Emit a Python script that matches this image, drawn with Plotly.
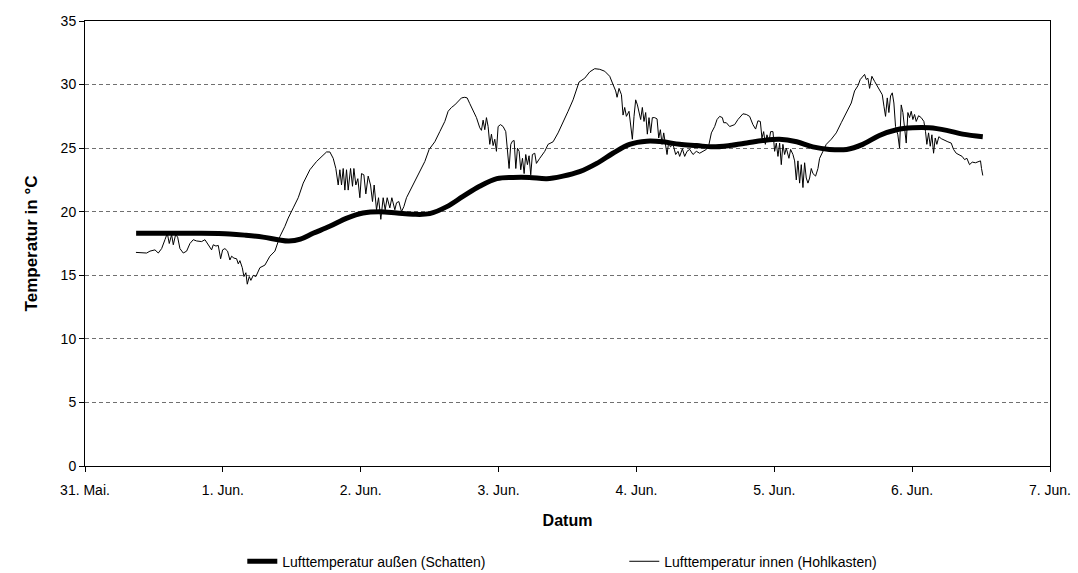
import plotly.graph_objects as go

# ---- data (hours since 31 May 00:00) ----
out_hours = [8.9, 12, 16, 20, 25.2, 28, 31, 33.6, 35.5, 37.5, 39.7, 42.6, 45.6, 48.4, 51.3, 54.3,
             57.1, 60, 63, 65.8, 68.7, 71.7, 74.5, 77.4, 80.4, 83.2, 86.1, 89.1, 91.9, 94.8, 97.8,
             100.6, 103.5, 106.5, 109.3, 112.2, 115.2, 118, 120.9, 123.9, 126.7, 129.6, 132.6,
             135.4, 138.3, 141.3, 144.1, 147, 150, 152.8, 156.3]
out_temp = [18.3, 18.3, 18.3, 18.3, 18.25, 18.15, 18.0, 17.8, 17.7, 17.85, 18.3, 18.85, 19.5, 19.9,
            20.0, 19.9, 19.8, 19.85, 20.4, 21.2, 22.0, 22.6, 22.7, 22.7, 22.6, 22.8, 23.15, 23.8,
            24.6, 25.3, 25.55, 25.5, 25.3, 25.2, 25.1, 25.2, 25.4, 25.6, 25.7, 25.5, 25.1, 24.9,
            24.9, 25.3, 26.0, 26.45, 26.6, 26.6, 26.4, 26.1, 25.9]

in_hours = [8.87, 10.73, 11.31, 12.18, 12.76, 13.34, 13.92, 14.33, 14.67, 15.08, 15.37, 15.78, 16.13,
            16.53, 17.11, 17.69, 18.27, 18.85, 19.43, 20.3, 20.88, 21.46, 22.04, 22.33, 22.79, 23.2,
            23.61, 23.96, 24.36, 24.82, 25.23, 25.52, 25.93, 26.39, 26.68, 26.97, 27.38, 27.67, 28.01,
            28.25, 28.6, 28.88, 29.29, 29.75, 30.45, 31.32, 32.19, 33.06, 33.93, 34.8, 35.38, 36.25,
            37.12, 37.99, 39.15, 40.31, 41.18, 42.05, 42.63, 43.21, 43.67, 44.08, 44.37, 44.66, 44.95,
            45.24, 45.53, 45.82, 46.23, 46.57, 46.81, 47.15, 47.5, 47.85, 48.14, 48.55, 48.89, 49.3,
            49.71, 50.05, 50.34, 50.75, 51.1, 51.5, 51.91, 52.26, 52.61, 53.07, 53.42, 53.94, 54.23,
            54.64, 55.1, 55.51, 55.97, 56.55, 57.42, 58.29, 59.16, 59.91, 60.9, 61.77, 62.64, 63.22,
            63.8, 64.38, 64.96, 65.54, 66.12, 66.53, 66.99, 67.57, 68.15, 68.73, 69.02, 69.31, 69.6,
            69.89, 70.18, 70.47, 70.76, 71.05, 71.34, 71.63, 71.92, 72.33, 72.79, 73.25, 73.54, 73.83,
            74.12, 74.42, 74.71, 75.0, 75.29, 75.58, 75.86, 76.16, 76.45, 76.73, 77.02, 77.31, 77.6,
            77.89, 78.3, 78.59, 79.17, 80.04, 80.62, 81.49, 82.36, 83.23, 84.1, 84.97, 85.55, 86.01,
            87.0, 87.87, 88.74, 89.61, 90.48, 91.35, 91.93, 92.39, 92.63, 92.97, 93.39, 93.67, 93.96,
            94.25, 94.71, 95.0, 95.29, 95.58, 95.87, 96.17, 96.45, 96.74, 97.03, 97.32, 97.61, 97.9,
            98.19, 98.48, 98.77, 99.18, 99.59, 99.88, 100.17, 100.46, 100.75, 101.04, 101.33, 101.62,
            101.91, 102.37, 102.83, 103.24, 103.53, 104.0, 104.4, 104.81, 105.27, 105.85, 106.43,
            107.01, 107.59, 108.17, 108.63, 109.05, 109.62, 110.03, 110.49, 110.96, 111.19, 111.65,
            112.23, 113.1, 113.67, 114.54, 115.13, 115.71, 116.28, 116.75, 117.15, 117.57, 117.85,
            118.15, 118.44, 118.72, 119.07, 119.36, 119.77, 120.06, 120.35, 120.64, 120.93, 121.22,
            121.5, 121.8, 122.09, 122.55, 122.84, 123.25, 123.54, 123.83, 124.12, 124.41, 124.7,
            124.99, 125.28, 125.57, 125.86, 126.15, 126.44, 126.73, 127.19, 127.6, 127.89, 128.35,
            129.05, 129.92, 130.79, 131.66, 132.53, 133.4, 133.98, 134.55, 134.97, 135.42, 135.72,
            136.01, 136.3, 136.59, 136.99, 137.46, 137.87, 138.33, 138.8, 139.09, 139.37, 139.67,
            139.95, 140.24, 140.54, 140.82, 141.11, 141.51, 141.81, 142.1, 142.39, 142.68, 142.97,
            143.26, 143.55, 143.84, 144.13, 144.42, 144.71, 145.12, 145.58, 146.04, 146.33, 146.56,
            146.86, 147.15, 147.44, 147.73, 148.02, 148.3, 148.65, 149.06, 149.64, 150.22, 150.8,
            151.21, 151.67, 152.13, 152.71, 153.12, 153.53, 153.99, 154.46, 155.03, 155.56, 155.9,
            156.08, 156.3]
in_temp = [16.8, 16.75, 16.9, 17.0, 16.75, 17.1, 17.8, 18.3, 17.5, 18.2, 17.4, 18.2, 18.0,
           17.1, 16.75, 16.9, 17.5, 17.8, 17.7, 17.65, 17.8, 17.4, 17.0, 17.4, 17.3, 17.35,
           16.3, 17.0, 17.1, 16.9, 16.2, 16.5, 16.35, 16.3, 15.9, 16.15, 15.6, 14.9, 15.2,
           14.3, 14.9, 14.6, 15.0, 14.9, 15.6, 15.8, 16.5, 16.9, 18.05, 18.85, 19.5, 20.3,
           21.1, 22.25, 23.3, 23.95, 24.3, 24.7, 24.7, 24.2, 23.4, 22.1, 23.3, 22.1, 23.4,
           21.7, 23.3, 21.7, 23.4, 22.0, 23.4, 22.1, 22.6, 21.1, 23.0, 22.9, 21.4, 22.8,
           22.1, 20.8, 22.1, 20.15, 21.1, 19.4, 21.1, 20.15, 21.1, 20.3, 21.1, 20.15, 20.7,
           20.8, 20.0, 20.4, 21.1, 21.6, 22.4, 23.2, 23.95, 24.9, 25.5, 26.3, 27.1, 27.9,
           28.2, 28.4, 28.7, 28.95, 29.0, 28.95, 28.5, 28.0, 27.4, 26.6, 26.4, 27.2, 26.45,
           27.4, 26.7, 25.3, 26.1, 25.2, 25.7, 24.75, 26.7, 26.85, 26.7, 26.3, 24.6, 23.4,
           25.3, 25.55, 25.6, 23.4, 25.0, 24.75, 23.3, 24.2, 23.0, 24.5, 23.7, 24.4, 22.9,
           24.5, 24.6, 23.8, 24.2, 24.75, 25.3, 25.5, 26.2, 27.0, 27.9, 28.8, 29.5, 30.2,
           30.5, 31.0, 31.25, 31.2, 31.05, 30.65, 30.0, 29.5, 29.0, 29.7, 29.2, 27.6, 28.2,
           27.5, 27.9, 26.7, 25.7, 27.5, 28.8, 28.4, 27.9, 27.25, 28.2, 27.1, 27.8, 26.1,
           27.4, 26.2, 27.4, 27.4, 27.3, 25.8, 26.45, 25.3, 26.2, 25.5, 24.5, 25.5,
           25.1, 25.3, 24.5, 24.75, 24.35, 24.95, 24.35, 24.75, 24.9, 24.5, 24.75,
           24.6, 24.75, 24.9, 25.3, 26.2, 26.7, 27.25, 27.5, 27.4, 27.0, 27.0,
           26.7, 26.85, 27.25, 27.7, 27.65, 27.5, 26.85, 26.5, 27.15, 27.1, 25.8,
           26.3, 25.3, 26.05, 25.5, 26.3, 26.3, 24.75, 25.4, 24.35, 25.4, 23.7,
           25.3, 24.5, 25.0, 24.2, 24.9, 24.5, 24.0, 22.5, 24.0, 22.25, 23.7,
           21.9, 23.85, 22.65, 22.25, 22.65, 23.4, 23.0, 22.8, 23.4, 24.2, 24.6,
           25.3, 25.7, 26.2, 27.0, 27.8, 28.55, 29.5, 29.9, 30.4, 30.65, 30.8,
           30.4, 30.5, 29.7, 30.65, 30.25, 29.9, 29.5, 29.2, 28.3, 27.5, 28.95,
           27.8, 29.1, 29.35, 28.55, 26.7, 26.05, 25.0, 28.4, 27.8, 26.6, 25.4,
           27.8, 27.4, 27.9, 27.25, 27.65, 27.1, 27.55, 27.4, 27.1, 26.3, 25.3,
           26.2, 25.15, 26.05, 24.6, 25.8, 25.3, 25.9, 25.75, 25.6, 25.5, 25.4,
           24.9, 24.6, 24.5, 24.35, 24.1, 24.2, 23.7, 23.9, 23.85, 23.95, 24.0,
           23.4, 22.85]

tick_hours = [0, 24, 48, 72, 96, 120, 144, 168]
tick_labels = ["31. Mai.", "1. Jun.", "2. Jun.", "3. Jun.", "4. Jun.", "5. Jun.", "6. Jun.", "7. Jun."]
y_ticks = [0, 5, 10, 15, 20, 25, 30, 35]

name_out = "Lufttemperatur außen (Schatten)"
name_in = "Lufttemperatur innen (Hohlkasten)"

FONT = "Liberation Sans, Arial, sans-serif"

fig = go.Figure()
fig.add_trace(go.Scatter(x=out_hours, y=out_temp, mode="lines", name=name_out,
                         line=dict(color="black", width=5, shape="spline", smoothing=1.0)))
fig.add_trace(go.Scatter(x=in_hours, y=in_temp, mode="lines", name=name_in,
                         line=dict(color="black", width=1)))

fig.update_layout(
    width=1078, height=573,
    margin=dict(l=85, r=28, t=21, b=107, autoexpand=False),
    paper_bgcolor="white", plot_bgcolor="white",
    font=dict(family=FONT, size=14, color="black"),
    showlegend=True,
    legend=dict(orientation="h", x=0.163, xanchor="left", y=-0.215, yanchor="middle",
                font=dict(family=FONT, size=14, color="black"),
                entrywidth=337, entrywidthmode="pixels", bgcolor="rgba(0,0,0,0)"),
)
fig.update_xaxes(range=[0, 168], tickvals=tick_hours, ticktext=tick_labels, automargin=False,
                 showline=True, linecolor="black", linewidth=1, mirror=True,
                 ticks="outside", ticklen=5, tickcolor="black", showgrid=False, zeroline=False,
                 ticklabelstandoff=6,
                 title=dict(text="<b>Datum</b>", font=dict(family=FONT, size=16), standoff=18))
fig.update_yaxes(range=[0, 35], tickvals=y_ticks, automargin=False,
                 showline=True, linecolor="black", linewidth=1, mirror=True,
                 ticks="outside", ticklen=5, tickcolor="black", zeroline=False,
                 showgrid=True, gridcolor="#707070", gridwidth=1, griddash="4px,3px",
                 title=dict(text="<b>Temperatur in °C</b>", font=dict(family=FONT, size=17), standoff=18))

fig.write_html("out.html", config={"displayModeBar": False},
               post_script="document.body.style.margin='0';document.body.style.overflow='hidden';")
